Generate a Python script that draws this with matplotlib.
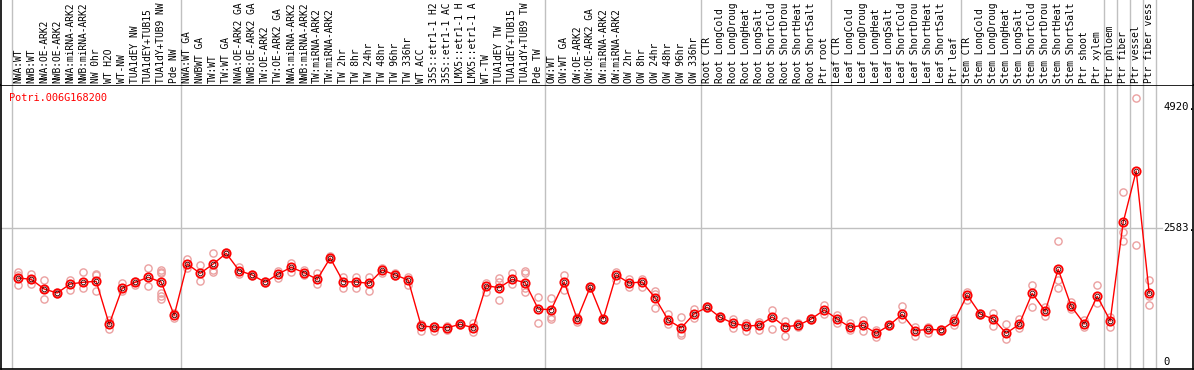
import matplotlib
matplotlib.use('Agg')
import matplotlib.pyplot as plt

# ====== column labels (truncated like the original)
labels = [
 'NWA:WT','NWB:WT','NWA:OE-ARK2','NWB:OE-ARK2','NWA:miRNA-ARK2','NWB:miRNA-ARK2','NW 0hr','WT H2O','WT-NW',
 'TUA1dEY NW','TUA1dEY+TUB15','TUA1dY+TUB9 NW','Pde NW',
 'NWA:WT GA','NWBWT GA','TW:WT','TW:WT GA','NWA:OE-ARK2 GA','NWB:OE-ARK2 GA','TW:OE-ARK2','TW:OE-ARK2 GA',
 'NWA:miRNA-ARK2','NWB:miRNA-ARK2','TW:miRNA-ARK2','TW:miRNA-ARK2','TW 2hr','TW 8hr','TW 24hr','TW 48hr',
 'TW 96hr','TW 336hr','WT ACC','35S::etr1-1 H2','35S::etr1-1 AC','LMX5::etr1-1 H','LMX5::etr1-1 A','WT-TW',
 'TUA1dEY TW','TUA1dEY+TUB15','TUA1dY+TUB9 TW','Pde TW',
 'OW:WT','OW:WT GA','OW:OE-ARK2','OW:OE-ARK2 GA','OW:miRNA-ARK2','OW:miRNA-ARK2','OW 2hr','OW 8hr','OW 24hr',
 'OW 48hr','OW 96hr','OW 336hr',
 'Root CTR','Root LongCold','Root LongDroug','Root LongHeat','Root LongSalt','Root ShortCold','Root ShortDrou',
 'Root ShortHeat','Root ShortSalt','Ptr root',
 'Leaf CTR','Leaf LongCold','Leaf LongDroug','Leaf LongHeat','Leaf LongSalt','Leaf ShortCold','Leaf ShortDrou',
 'Leaf ShortHeat','Leaf ShortSalt','Ptr leaf',
 'Stem CTR','Stem LongCold','Stem LongDroug','Stem LongHeat','Stem LongSalt','Stem ShortCold','Stem ShortDrou',
 'Stem ShortHeat','Stem ShortSalt','Ptr shoot','Ptr xylem','Ptr phloem','Ptr fiber','Ptr vessel','Ptr fiber vess',
]

# ====== mean expression per column
means = [
 1623,1597,1410,1333,1507,1540,1559,728,1424,1540,1636,1545,902,
 1893,1713,1893,2100,1764,1681,1540,1700,1829,1725,1597,2009,1551,1545,1520,1777,1681,1584,
 695,676,663,728,663,1474,1435,1597,1532,1024,
 1010,1545,831,1449,831,1681,1526,1545,1236,811,657,933,
 1057,863,748,695,709,869,682,709,831,1004,
 831,670,709,554,709,921,605,632,618,792,
 1294,927,831,554,728,1327,979,1791,1076,740,1269,798,2699,3690,1333,
]

# ====== replicate values per column
reps = [
 [1745,1681,1488],[1700,1597,1501],[1578,1410,1211],[1333,1320,1345],[1578,1391],[1739,1430],
 [1706,1675,1372],[811,638],[1532,1372],[1571,1488],[1816,1468],[1777,1745,1725,1339,1275,1217],
 [952,844],
 [1984,1810],[1868,1565],[2100,1777,1733],[2130,2080],[1841,1694],[1700,1660],[1520,1560],
 [1764,1617],[1918,1745],[1777,1681],[1714,1507],[2040,1990],[1648,1424],[1648,1430],
 [1636,1366],[1810,1725],[1710,1660],[1648,1488],
 [734,605],[695,605],[695,612],[750,710],[748,585],[1520,1358],[1617,1551,1198],[1714,1501],
 [1764,1714,1424,1358],[1250,759],
 [1231,875,825],[1681,1391],[875,779],[1470,1430],[840,820],[1745,1584],[1597,1455],[1597,1455],
 [1377,1314,1037],[927,734],[864,566,522],[1018,856],
 [1080,1040],[880,850],[825,651],[748,605],[767,618],[1005,632],[798,508],[759,670],[850,815],
 [1101,927],
 [908,759],[759,618],[811,605],[618,489],[720,700],[1082,825],[682,502],[682,566],[630,605],
 [844,715],
 [1358,1198],[940,910],[941,701],[728,439],[825,651],[1488,1068],[1068,889],[2332,1584,1424],
 [1165,1018],[811,682],[1488,1146],[875,670],[3279,2506,2332],[5095,2260],[1584,1275,1101],
]

group_edges = [0, 13, 41, 53, 63, 73, 84, 85, 86, 87, 88]
tick_vals = [0, 2583, 4920]
tick_text = ['0', '2583.', '4920.']
gene = 'Potri.006G168200'

W, H = 1194, 370
fig = plt.figure(figsize=(W / 100, H / 100), dpi=100)
mono = 'DejaVu Sans Mono'

# pixel layout
left_px, right_px = 1, 1193
head_px, bot_px = 85, 369
col0_px, col_w = 18.2, 13.0
xl = ((left_px - col0_px) / col_w, (right_px - col0_px) / col_w)
# value mapping: 0 -> y 362, 4920 -> y 107.3
vpp = 4920 / (362 - 107.3)
yl = ((362 - bot_px) * vpp, (362 - head_px) * vpp)

ax = fig.add_axes([left_px / W, (H - bot_px) / H, (right_px - left_px) / W, (bot_px - head_px) / H])
hx = fig.add_axes([left_px / W, (H - head_px) / H, (right_px - left_px) / W, head_px / H])
for a in (ax, hx):
    a.set_xlim(*xl)
    a.set_xticks([])
    a.set_yticks([])
    for e in group_edges:
        a.axvline(e - 0.5, color='#c0c0c0', lw=1, zorder=1)
ax.set_ylim(*yl)
hx.set_ylim(0, 1)
for s in ax.spines.values():
    s.set_color('black')
    s.set_linewidth(1.2)
hx.spines['top'].set_visible(False)
hx.spines['bottom'].set_visible(False)
for s in ('left', 'right'):
    hx.spines[s].set_linewidth(1.2)

# header labels
for i, lab in enumerate(labels):
    hx.text(i, 2 / head_px, lab, rotation=90, ha='center', va='bottom', family=mono,
            fontsize=6.9, color='black', clip_on=True)

# gridline + right side values
ax.axhline(2583, xmin=0, xmax=(1162 - left_px) / (right_px - left_px), color='#c0c0c0', lw=1, zorder=1)
for v, t in zip(tick_vals, tick_text):
    ax.text((1163 - col0_px) / col_w, v, t, ha='left', va='center', family=mono, fontsize=7.6)

# replicates
for i, r in enumerate(reps):
    ax.plot([i] * len(r), r, 'o', ms=5.2, mfc='none', mec='#eba0a0', mew=1.0, zorder=2, clip_on=False)

# mean line
xs = list(range(len(means)))
ax.plot(xs, means, '-', color='red', lw=1, zorder=3)
ax.plot(xs, means, 'o', ms=6, mfc='none', mec='red', mew=1.3, zorder=4)
ax.plot(xs, means, 'o', ms=3.4, mfc='none', mec='#400000', mew=0.6, zorder=5)

fig.text(9 / W, 1 - 97.7 / H, gene, color='red', family=mono, fontsize=7.4, ha='left', va='center')

fig.savefig('out.png', dpi=100)
